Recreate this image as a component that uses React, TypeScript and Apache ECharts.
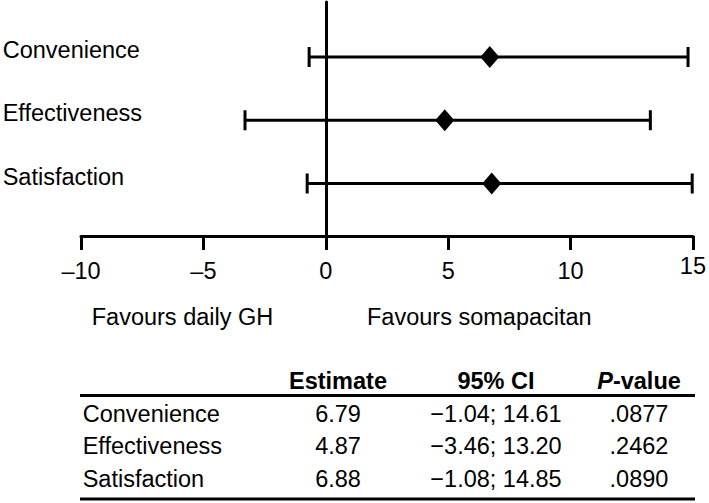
import React, { useEffect, useRef } from "react";
import * as echarts from "echarts";

// Plot data
const categories = ["Convenience", "Effectiveness", "Satisfaction"];
const estimates = [6.7, 4.86, 6.78];
const lowerCI = [-0.68, -3.3, -0.76];
const upperCI = [14.8, 13.26, 14.97];

// Axis
const xMin = -10;
const xMax = 15;
const xInterval = 5;

// Direction labels
const favourLeft = "Favours daily GH";
const favourRight = "Favours somapacitan";

// Table
const tableHeaders = ["Estimate", "95% CI", "P-value"];
const tableEstimate = ["6.79", "4.87", "6.88"];
const tableCI = ["\u22121.04; 14.61", "\u22123.46; 13.20", "\u22121.08; 14.85"];
const tableP = [".0877", ".2462", ".0890"];

const FONT = "'Liberation Sans', Arial, Helvetica, sans-serif";
const FS = 23.5;

export default function App() {
  const ref = useRef<HTMLDivElement>(null);

  useEffect(() => {
    if (!ref.current) return;
    const chart = echarts.init(ref.current, null, { renderer: "svg" });
    const n = categories.length;
    const rowVal = (i: number) => n - i;

    const barData = categories.map((c, i) => [lowerCI[i], upperCI[i], rowVal(i), c]);
    const pointData = categories.map((c, i) => [estimates[i], rowVal(i)]);

    const txt = (text: string, x: number, y: number, align: string, extra: any = {}) => ({
      type: "text",
      x,
      y,
      silent: true,
      style: {
        text,
        fill: "#000",
        fontSize: FS,
        fontFamily: FONT,
        textAlign: align,
        align,
        textVerticalAlign: "middle",
        verticalAlign: "middle",
        ...extra,
      },
    });

    const colX = [338, 496, 639];
    const headerY = 381;
    const rowY = [414, 446, 478.5];
    const graphics: any[] = [
      txt(favourLeft, 182.5, 317, "center"),
      txt(favourRight, 367, 317, "left"),
      txt(tableHeaders[0], colX[0], headerY, "center", { fontWeight: "bold" }),
      txt(tableHeaders[1], colX[1], headerY, "center", { fontWeight: "bold" }),
      txt("{i|P}-value", colX[2], headerY, "center", {
        fontWeight: "bold",
        rich: {
          i: { fontStyle: "italic", fontWeight: "bold", fontSize: FS, fontFamily: FONT, fill: "#000" },
        },
      }),
      {
        type: "line",
        silent: true,
        shape: { x1: 80, y1: 395.5, x2: 695, y2: 395.5 },
        style: { stroke: "#000", lineWidth: 3 },
      },
      {
        type: "line",
        silent: true,
        shape: { x1: 80, y1: 499, x2: 695, y2: 499 },
        style: { stroke: "#000", lineWidth: 3 },
      },
    ];
    categories.forEach((c, i) => {
      graphics.push(txt(c, 82.7, rowY[i], "left"));
      graphics.push(txt(tableEstimate[i], colX[0], rowY[i], "center"));
      graphics.push(txt(tableCI[i], colX[1], rowY[i], "center"));
      graphics.push(txt(tableP[i], colX[2], rowY[i], "center"));
    });

    chart.setOption({
      animation: false,
      grid: { left: 81, right: 15, top: 2, bottom: 267 },
      xAxis: {
        type: "value",
        min: xMin,
        max: xMax,
        interval: xInterval,
        splitLine: { show: false },
        axisLine: { show: true, onZero: false, lineStyle: { color: "#000", width: 3 } },
        axisTick: { show: true, length: 14, lineStyle: { color: "#000", width: 3 } },
        axisLabel: {
          color: "#000",
          fontSize: FS,
          fontFamily: FONT,
          margin: 35,
          verticalAlign: "middle",
          formatter: (v: number) =>
            v === xMax ? "{up|" + v + "}" : v < 0 ? "\u2013" + Math.abs(v) : String(v),
          rich: {
            up: { color: "#000", fontSize: FS, fontFamily: FONT, padding: [0, 0, 10, 0] },
          },
        },
      },
      yAxis: {
        type: "value",
        min: 0.17,
        max: 3.87,
        splitLine: { show: false },
        axisLine: { show: true, onZero: true, lineStyle: { color: "#000", width: 3 } },
        axisTick: { show: false },
        axisLabel: { show: false },
      },
      series: [
        {
          type: "custom",
          clip: false,
          data: barData,
          renderItem: (params: any, api: any) => {
            const lo = api.value(0);
            const hi = api.value(1);
            const yv = api.value(2);
            const name = categories[params.dataIndex];
            const p1 = api.coord([lo, yv]);
            const p2 = api.coord([hi, yv]);
            const cap = 10;
            const ls = { stroke: "#000", lineWidth: 3 };
            return {
              type: "group",
              children: [
                { type: "line", shape: { x1: p1[0], y1: p1[1], x2: p2[0], y2: p2[1] }, style: ls },
                { type: "line", shape: { x1: p1[0], y1: p1[1] - cap, x2: p1[0], y2: p1[1] + cap }, style: ls },
                { type: "line", shape: { x1: p2[0], y1: p2[1] - cap, x2: p2[0], y2: p2[1] + cap }, style: ls },
                {
                  type: "text",
                  x: 2.7,
                  y: p1[1] - 7,
                  style: {
                    text: name,
                    fill: "#000",
                    fontSize: FS,
                    fontFamily: FONT,
                    textAlign: "left",
                    align: "left",
                    textVerticalAlign: "middle",
                    verticalAlign: "middle",
                  },
                },
              ],
            };
          },
          z: 2,
        },
        {
          type: "scatter",
          data: pointData,
          symbol: "diamond",
          symbolSize: [19, 22],
          itemStyle: { color: "#000", opacity: 1 },
          z: 3,
        },
      ],
      graphic: graphics,
    });

    return () => chart.dispose();
  }, []);

  return (
    <div
      ref={ref}
      style={{ position: "absolute", left: 0, top: 0, width: 709, height: 503, background: "#fff" }}
    />
  );
}
